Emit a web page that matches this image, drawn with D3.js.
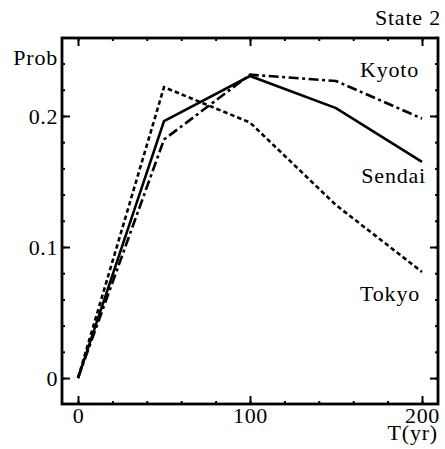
<!DOCTYPE html>
<html>
<head>
<meta charset="utf-8">
<script src="https://cdn.jsdelivr.net/npm/d3@7"></script>
<style>
  html, body { margin: 0; padding: 0; background: #fff; }
</style>
</head>
<body>
<svg id="chart" width="445" height="449"></svg>
<script>
// Return periods (years) and occurrence probability for each city
const years = [0, 50, 100, 150, 200];
const sendai = [0, 0.196, 0.2305, 0.206, 0.165];
const kyoto  = [0, 0.182, 0.2315, 0.2267, 0.198];
const tokyo  = [0, 0.222, 0.195, 0.132, 0.081];

const xMajorTicks = [0, 100, 200];
const xMinorTicks = d3.range(0, 201, 20);
const yMajorTicks = [0, 0.1, 0.2];
const yMinorTicks = d3.range(0, 0.2601, 0.02);
const yTickLabels = ["0", "0.1", "0.2"];

const series = [
  { name: "Sendai", values: sendai, dash: null },
  { name: "Kyoto",  values: kyoto,  dash: "10,3.5,3,3.5" },
  { name: "Tokyo",  values: tokyo,  dash: "4.5,3" }
];

const svg = d3.select("#chart");
const plotLeft = 62, plotRight = 438, plotTop = 38, plotBottom = 404;

const x = d3.scaleLinear().domain([-9.3, 209.3]).range([plotLeft, plotRight]);
const y = d3.scaleLinear().domain([-0.0198, 0.2595]).range([plotBottom, plotTop]);

const fontFamily = "Liberation Serif, DejaVu Serif, serif";
const fontSize = 22;

function styleAxis(g) {
  g.attr("font-family", fontFamily).attr("font-size", fontSize);
  g.select(".domain").remove();
  g.selectAll(".tick line").attr("stroke", "#000").attr("stroke-width", 2);
  g.selectAll(".tick text")
    .attr("font-family", fontFamily)
    .attr("font-size", fontSize)
    .attr("letter-spacing", 0.6)
    .attr("fill", "#000");
}

// minor ticks on all four sides, pointing inward
svg.append("g").attr("transform", `translate(0,${plotBottom})`)
  .call(d3.axisBottom(x).tickValues(xMinorTicks).tickSize(-3).tickFormat(""))
  .call(styleAxis);
svg.append("g").attr("transform", `translate(0,${plotTop})`)
  .call(d3.axisTop(x).tickValues(xMinorTicks).tickSize(-3).tickFormat(""))
  .call(styleAxis);
svg.append("g").attr("transform", `translate(${plotLeft},0)`)
  .call(d3.axisLeft(y).tickValues(yMinorTicks).tickSize(-3).tickFormat(""))
  .call(styleAxis);
svg.append("g").attr("transform", `translate(${plotRight},0)`)
  .call(d3.axisRight(y).tickValues(yMinorTicks).tickSize(-3).tickFormat(""))
  .call(styleAxis);

// major ticks with labels
svg.append("g").attr("transform", `translate(0,${plotBottom})`)
  .call(d3.axisBottom(x).tickValues(xMajorTicks).tickSize(-8).tickPadding(3).tickFormat(d3.format("d")))
  .call(styleAxis);
svg.append("g").attr("transform", `translate(0,${plotTop})`)
  .call(d3.axisTop(x).tickValues(xMajorTicks).tickSize(-8).tickFormat(""))
  .call(styleAxis);
svg.append("g").attr("transform", `translate(${plotLeft},0)`)
  .call(d3.axisLeft(y).tickValues(yMajorTicks).tickSize(-8).tickPadding(4)
    .tickFormat((d, i) => yTickLabels[i]))
  .call(styleAxis);
svg.append("g").attr("transform", `translate(${plotRight},0)`)
  .call(d3.axisRight(y).tickValues(yMajorTicks).tickSize(-8).tickFormat(""))
  .call(styleAxis);

// frame
svg.append("rect")
  .attr("x", plotLeft).attr("y", plotTop)
  .attr("width", plotRight - plotLeft).attr("height", plotBottom - plotTop)
  .attr("fill", "none").attr("stroke", "#000").attr("stroke-width", 2.8);

// curves
const line = d3.line()
  .x((d, i) => x(years[i]))
  .y(d => y(d));

svg.append("g").selectAll("path")
  .data(series)
  .join("path")
  .attr("d", d => line(d.values))
  .attr("fill", "none")
  .attr("stroke", "#000")
  .attr("stroke-width", 2.6)
  .attr("stroke-dasharray", d => d.dash);

// text labels
const labels = [
  { text: "State 2", x: 441, y: 25, anchor: "end" },
  { text: "Prob", x: 58, y: 65, anchor: "end" },
  { text: "Kyoto", x: 419, y: 77, anchor: "end" },
  { text: "Sendai", x: 426, y: 183, anchor: "end" },
  { text: "Tokyo", x: 420, y: 301, anchor: "end" },
  { text: "T(yr)", x: 438, y: 440, anchor: "end" }
];
svg.append("g").selectAll("text")
  .data(labels)
  .join("text")
  .attr("x", d => d.x)
  .attr("y", d => d.y)
  .attr("text-anchor", d => d.anchor)
  .attr("font-family", fontFamily)
  .attr("font-size", fontSize)
  .attr("letter-spacing", 0.8)
  .attr("fill", "#000")
  .text(d => d.text);
</script>
</body>
</html>
